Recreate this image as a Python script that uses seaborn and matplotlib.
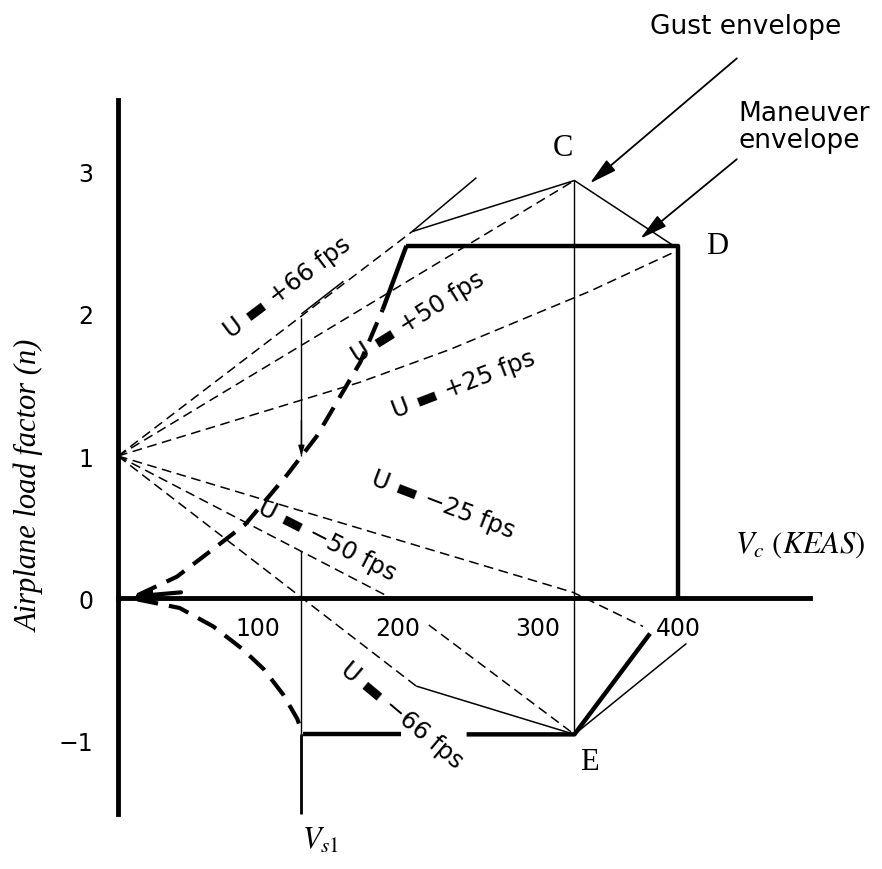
import pandas as pd
import seaborn as sns
import matplotlib.pyplot as plt

# --- data (airspeed in KEAS, load factor n) ---
V_S1 = 131
V_C = 326
V_D = 400

# gust lines from (0, 1), thin dashed
gust_p66_v = [0, 210]
gust_p66_n = [1.0, 2.58]
gust_p66_ext_v = [210, 256]
gust_p66_ext_n = [2.58, 2.96]
gust_p66_solid_v = [131, 161]
gust_p66_solid_n = [2.0, 2.23]
gust_p50_v = [0, 326]
gust_p50_n = [1.0, 2.94]
gust_p25_v = [0, 173, 237, 337, 396]
gust_p25_n = [1.0, 1.52, 1.75, 2.16, 2.43]
gust_m25_v = [0, 325, 375]
gust_m25_n = [1.0, 0.04, -0.20]
gust_m50a_v = [0, 195]
gust_m50a_n = [1.0, 0.0]
gust_m50b_v = [222, 326]
gust_m50b_n = [-0.19, -0.96]
gust_m66_v = [0, 213]
gust_m66_n = [1.0, -0.62]

# gust envelope (thin solid)
gust_env_top_v = [210, 326, 400]
gust_env_top_n = [2.58, 2.94, 2.46]
gust_env_bot_v = [213, 326, 406]
gust_env_bot_n = [-0.62, -0.96, -0.32]

# maneuver envelope (thick)
stall_pos_v = [14, 42, 66, 91, 121, 142, 173, 189]
stall_pos_n = [0.02, 0.15, 0.33, 0.52, 0.87, 1.14, 1.66, 2.03]
stall_pos_solid_v = [189, 206]
stall_pos_solid_n = [2.03, 2.48]
limit_pos_v = [206, 400, 400]
limit_pos_n = [2.48, 2.48, 0.0]
stall_neg_v = [14, 44, 68, 89, 104, 118, 128, 132]
stall_neg_n = [-0.01, -0.07, -0.20, -0.36, -0.50, -0.68, -0.85, -0.96]
limit_neg_a_v = [132, 202]
limit_neg_a_n = [-0.96, -0.96]
limit_neg_b_v = [249, 326, 380]
limit_neg_b_n = [-0.96, -0.96, -0.25]

# tick marks / labels
x_ticks = [50, 100, 150, 200, 250, 300, 350, 400, 450]
x_tick_labels = ['', '100', '', '200', '', '300', '', '400', '']
y_ticks = [-1, -0.5, 0, 0.5, 1, 1.5, 2, 2.5, 3]
y_tick_labels = ['\u22121', '', '0', '', '1', '', '2', '', '3']

gust_labels = ['U \u25ac +66 fps', 'U \u25ac +50 fps', 'U \u25ac +25 fps',
               'U \u25ac \u221225 fps', 'U \u25ac \u221250 fps', 'U \u25ac \u221266 fps']
gust_label_v = [121, 214, 247, 232, 149, 203]
gust_label_n = [2.19, 1.98, 1.51, 0.66, 0.41, -0.82]
gust_label_rot = [37, 32, 21, -21, -27, -40]

# --- style ---
sns.set_theme(style='white')
plt.rcParams['font.family'] = ['DejaVu Sans']
plt.rcParams['text.color'] = 'black'
plt.rcParams['mathtext.fontset'] = 'stix'
plt.rcParams['lines.scale_dashes'] = False

fig = plt.figure(figsize=(8.82, 8.70), dpi=100)
ax = fig.add_axes([0, 0, 1, 1])
ax.set_xlim(-84.3, 545.7)
ax.set_ylim(-1.908, 4.218)

THIN_DASH = (7, 4)
THICK_DASH = (15, 8)


def draw(v, n, lw, dashes=None):
    sns.lineplot(x=v, y=n, ax=ax, color='black', lw=lw, sort=False,
                 estimator=None, legend=False)
    line = ax.lines[-1]
    line.set_solid_capstyle('butt')
    if dashes is not None:
        line.set_dashes(dashes)


# gust lines
for v, n in [(gust_p66_v, gust_p66_n), (gust_p50_v, gust_p50_n),
             (gust_p25_v, gust_p25_n), (gust_m25_v, gust_m25_n),
             (gust_m50a_v, gust_m50a_n), (gust_m50b_v, gust_m50b_n),
             (gust_m66_v, gust_m66_n)]:
    draw(v, n, 1.1, THIN_DASH)
draw(gust_p66_ext_v, gust_p66_ext_n, 1.1)
draw(gust_p66_solid_v, gust_p66_solid_n, 1.1)

# gust envelope
draw(gust_env_top_v, gust_env_top_n, 1.1)
draw(gust_env_bot_v, gust_env_bot_n, 1.1)
draw([V_C, V_C], [2.94, -0.96], 1.0)

# Vs1 line
draw([V_S1, V_S1], [1.97, 1.0], 1.0)
draw([V_S1, V_S1], [0.33, -0.96], 1.0)
draw([V_S1, V_S1], [-0.96, -1.52], 2.0)

# maneuver envelope
draw(stall_pos_v, stall_pos_n, 3.0, THICK_DASH)
draw(stall_pos_solid_v, stall_pos_solid_n, 3.2)
draw(limit_pos_v, limit_pos_n, 3.2)
draw(stall_neg_v, stall_neg_n, 3.0, THICK_DASH)
draw(limit_neg_a_v, limit_neg_a_n, 3.2)
draw(limit_neg_b_v, limit_neg_b_n, 3.2)

# small arrowheads
ax.annotate('', xy=(10, 0.01), xytext=(45, 0.04),
            arrowprops=dict(arrowstyle='-|>,head_length=0.8,head_width=0.3',
                            lw=3, color='black', shrinkA=0, shrinkB=0))
ax.annotate('', xy=(V_S1, 1.0), xytext=(V_S1, 1.25),
            arrowprops=dict(arrowstyle='-|>,head_length=0.5,head_width=0.15',
                            lw=1, color='black', shrinkA=0, shrinkB=0))

# axes
for side in ['top', 'right']:
    ax.spines[side].set_visible(False)
ax.spines['left'].set_position(('data', 0))
ax.spines['bottom'].set_position(('data', 0))
ax.spines['left'].set_bounds(-1.52, 3.51)
ax.spines['bottom'].set_bounds(0, 494)
for side in ['left', 'bottom']:
    ax.spines[side].set_linewidth(3.5)
    ax.spines[side].set_color('black')
ax.set_xticks(x_ticks)
ax.set_xticklabels(x_tick_labels)
ax.set_yticks(y_ticks)
ax.set_yticklabels(y_tick_labels)
ax.tick_params(axis='both', direction='inout', length=12, width=3,
               color='black', labelsize=17, labelcolor='black')
ax.tick_params(axis='x', pad=7)
ax.tick_params(axis='y', pad=12)
ax.grid(False)

# gust labels
for txt, v, n, r in zip(gust_labels, gust_label_v, gust_label_n, gust_label_rot):
    ax.text(v, n, txt, rotation=r, rotation_mode='anchor', ha='center',
            va='center', fontsize=17.5, color='black')

# point labels
serif = ['Liberation Serif', 'DejaVu Serif']
ax.text(318, 3.17, 'C', family=serif, fontsize=22, ha='center', va='center')
ax.text(428, 2.48, 'D', family=serif, fontsize=22, ha='center', va='center')
ax.text(337, -1.15, 'E', family=serif, fontsize=22, ha='center', va='center')
ax.text(145, -1.70, r'$V_{s1}$', fontsize=22, ha='center', va='center')
ax.text(487, 0.38, r'$V_c\ (KEAS)$', fontsize=22, ha='center', va='center')
ax.text(-63, 0.80, 'Airplane load factor (n)', family=serif, style='italic',
        fontsize=22, rotation=90, ha='center', va='center')

# envelope call-outs
ax.text(448, 4.03, 'Gust envelope', fontsize=19, ha='center', va='center')
ax.annotate('', xy=(337, 2.92), xytext=(442, 3.80),
            arrowprops=dict(arrowstyle='-|>,head_length=1.4,head_width=0.35',
                            lw=1.3, color='black', shrinkA=0, shrinkB=0))
ax.text(443, 3.32, 'Maneuver\nenvelope', fontsize=19, ha='left', va='center',
        linespacing=1.05)
ax.annotate('', xy=(373, 2.53), xytext=(442, 3.09),
            arrowprops=dict(arrowstyle='-|>,head_length=1.4,head_width=0.35',
                            lw=1.3, color='black', shrinkA=0, shrinkB=0))

fig.savefig('out.png', dpi=100, facecolor='white')
